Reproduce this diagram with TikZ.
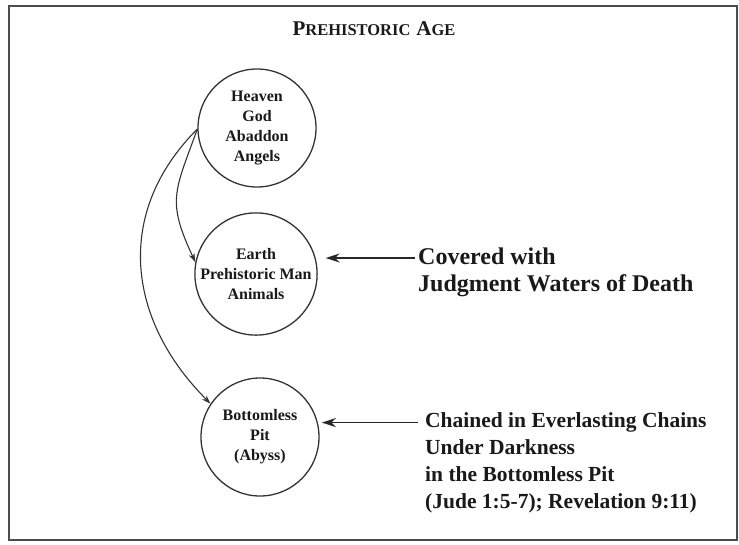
\documentclass[tikz,border=0pt]{standalone}
\usepackage{fontspec}
\setmainfont{Liberation Serif}
\usetikzlibrary{positioning,arrows.meta}

\begin{document}
\begin{tikzpicture}[
  x=1pt, y=1pt,
  realm/.style={circle, draw=black!80, line width=1.3pt, minimum size=118pt, inner sep=0pt, align=center, text=black!90, font=\bfseries\fontsize{16}{20}\selectfont},
  note/.style={anchor=north west, align=left, inner sep=0pt, text=black!90, font=\bfseries\fontsize{21.5}{27}\selectfont},
  pointer/.style={-{Stealth[length=14pt,width=9pt]}, line width=1.7pt, draw=black!85},
  fall/.style={-{Stealth[length=9pt,width=6pt]}, line width=1.1pt, draw=black!80}
  ]
  \useasboundingbox (0,0) rectangle (739,-544);
  \draw[draw=black!70, line width=2.6pt] (9,-6) rectangle (737,-540);

  % Title
  \node[text=black!90, font=\bfseries] (title) at (374,-29) {{\fontsize{21}{21}\selectfont P}{\fontsize{16.5}{16.5}\selectfont REHISTORIC}\hspace{6pt}{\fontsize{21}{21}\selectfont A}{\fontsize{16.5}{16.5}\selectfont GE}};

  % The three realms
  \node[realm] (heaven) at (257,-128) {Heaven\\God\\Abaddon\\Angels};
  \node[realm] (earth) at (256,-274) {Earth\\Prehistoric Man\\Animals};
  \node[realm] (pit) at (260,-437) {Bottomless\\Pit\\(Abyss)};

  % Notes on the right
  \node[note, font=\bfseries\fontsize{24}{27}\selectfont] (covered) at (418,-248) {Covered with\\Judgment Waters of Death};
  \node[note] (chained) at (425,-412) {Chained in Everlasting Chains\\Under Darkness\\in the Bottomless Pit\\(Jude 1:5-7); Revelation 9:11)};

  % Casting down
  \draw[fall] (heaven.181) to[out=250, in=115, looseness=1.3] (earth.169);
  \draw[fall] (heaven.181) to[out=225, in=135, looseness=1.1] (pit.146);

  % Pointers from the notes
  \draw[pointer, shorten <=3pt, shorten >=10pt] (covered.west |- earth.15) -- (earth.15);
  \draw[pointer, shorten <=7pt, shorten >=4pt] (chained.west |- pit.14) -- (pit.14);
\end{tikzpicture}
\end{document}
